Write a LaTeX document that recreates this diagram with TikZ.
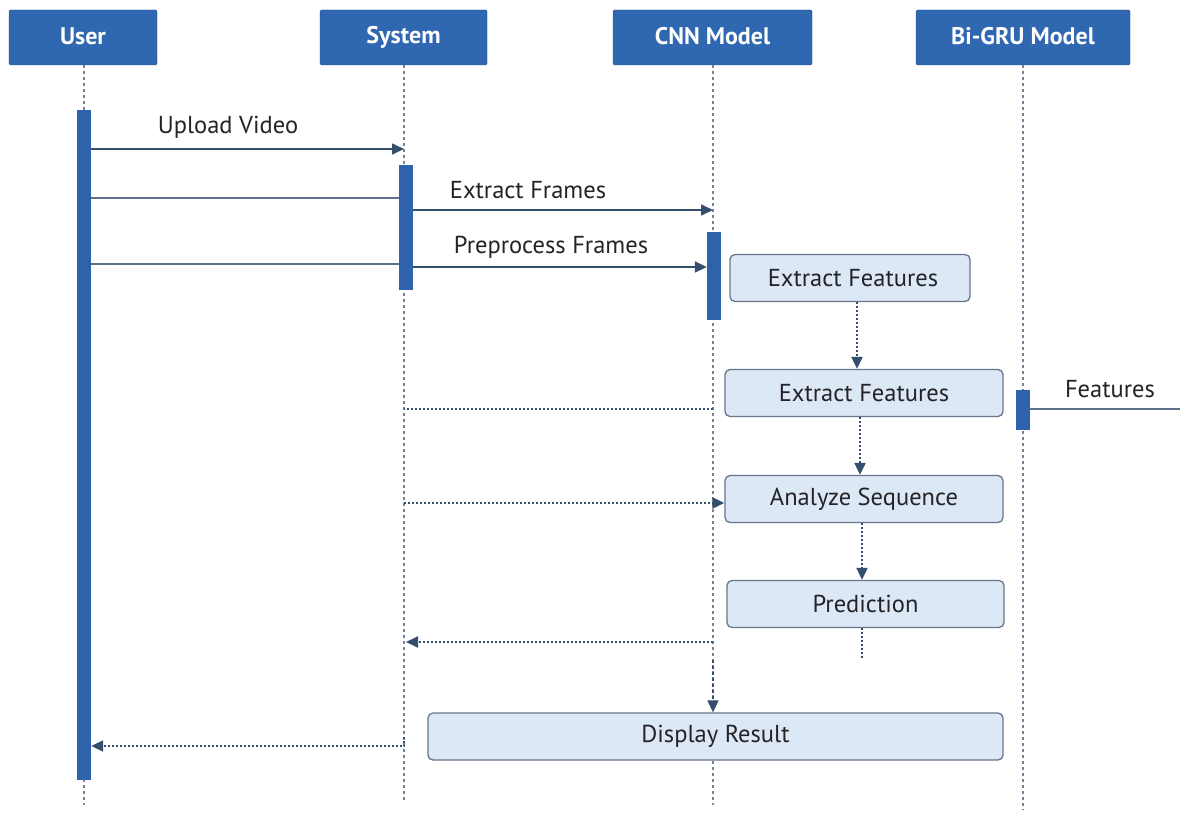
\documentclass[tikz,border=0pt]{standalone}
\usepackage{fontspec}
\setmainfont{PT Sans}
\usetikzlibrary{arrows.meta}
\definecolor{headblue}{RGB}{47,103,176}
\definecolor{headborder}{RGB}{38,78,135}
\definecolor{barblue}{RGB}{46,98,170}
\definecolor{boxfill}{RGB}{220,232,246}
\definecolor{boxdraw}{RGB}{105,118,138}
\definecolor{arrowc}{RGB}{52,78,110}
\definecolor{lifec}{RGB}{120,132,150}
\definecolor{txt}{RGB}{35,35,40}
\tikzset{
  head/.style={draw=headborder, fill=headblue, text=white, font=\fontsize{24}{28}\selectfont\bfseries, minimum height=55, inner sep=0pt, rounded corners=1.5},
  bar/.style={draw=none, fill=barblue, minimum width=14, inner sep=0pt},
  proc/.style={draw=boxdraw, line width=1.3, fill=boxfill, text=txt, rounded corners=5, font=\fontsize{24.5}{28}\selectfont, minimum height=47, inner sep=0pt},
  lifeline/.style={draw=lifec, line width=1.2, dash pattern=on 3 off 3},
  msg/.style={draw=arrowc!80, line width=1.6},
  ret/.style={draw=arrowc, line width=2, dash pattern=on 2 off 2},
  tip/.style={-{Triangle[length=12,width=11]}, arrowc},
  lbl/.style={text=txt, font=\fontsize{24.5}{28}\selectfont, inner sep=0pt}
}
\begin{document}
\begin{tikzpicture}[x=1pt,y=-1pt]
\useasboundingbox[fill=white] (0,0) rectangle (1180,813);
% headers
\node[head, minimum width=148] (u) at (83,37.5) {\raisebox{3pt}{User}};
\node[head, minimum width=167] (s) at (403.5,37.5) {\raisebox{3pt}{System}};
\node[head, minimum width=199] (c) at (712.5,37.5) {\raisebox{3pt}{CNN Model}};
\node[head, minimum width=214] (g) at (1023,37.5) {\raisebox{3pt}{Bi-GRU Model}};
% lifeline ends
\coordinate (ue) at (84,805);
\coordinate (se) at (404,800);
\coordinate (ce) at (713,805);
\coordinate (ge) at (1023,810);
\draw[lifeline] (u.south -| ue) -- (ue);
\draw[lifeline] (s.south -| se) -- (se);
\draw[lifeline] (c.south -| ce) -- (ce);
\draw[lifeline] (g.south -| ge) -- (ge);
% activation bars
\node[bar, minimum height=670] (ub) at (84,445) {};
\node[bar, minimum height=125] (sb) at (406,227.5) {};
\node[bar, minimum height=88] (cb) at (714,276) {};
\node[bar, minimum height=40] (gb) at (1023,410) {};
% process boxes
\node[proc, minimum width=240] (ef1) at (850,278) {\hspace*{6pt}Extract Features};
\node[proc, minimum width=278] (ef2) at (864,393) {Extract Features};
\node[proc, minimum width=278] (as) at (864,499) {Analyze Sequence};
\node[proc, minimum width=277] (pr) at (865.5,604) {Prediction};
\node[proc, minimum width=575] (dr) at (715.5,736.5) {Display Result};
% messages
\draw[msg, tip] (ub.east |- 0,149) -- (se |- 0,149);
\node[lbl] (l1) at (228,127) {Upload Video};
\draw[msg] (ub.east |- 0,198) -- (sb.west |- 0,198);
\draw[msg, tip] (sb.east |- 0,210) -- (ce |- 0,210);
\node[lbl] (l2) at (528,190) {Extract Frames};
\draw[msg] (ub.east |- 0,264) -- (sb.west |- 0,264);
\draw[msg, tip] (sb.east |- 0,267) -- (cb.west |- 0,267);
\node[lbl] (l3) at (551,247) {Preprocess Frames};
% internal flow
\draw[ret, tip] (ef1.south -| 857,0) -- (ef2.north -| 857,0);
\draw[ret, tip] (ef2.south -| 860,0) -- (as.north -| 860,0);
\draw[ret, tip] (as.south -| 862,0) -- (pr.north -| 862,0);
\coordinate (pe) at (862,660);
\draw[ret] (pr.south -| pe) -- (pe);
% returns
\draw[ret] (ce |- 0,409) -- (se |- 0,409);
\draw[ret, tip] (se |- 0,503) -- (as.west |- 0,503);
\draw[ret, tip] (ce |- 0,642) -- (406,642);
\draw[lifeline, tip] (ce |- 0,660) -- (dr.north -| ce);
\draw[ret, tip] (dr.west -| se) |- (ub.east |- 0,746);
% features
\coordinate (fe) at (1180,409);
\draw[msg] (gb.east |- fe) -- (fe);
\node[lbl] (l4) at (1110,389) {Features};
\end{tikzpicture}
\end{document}
